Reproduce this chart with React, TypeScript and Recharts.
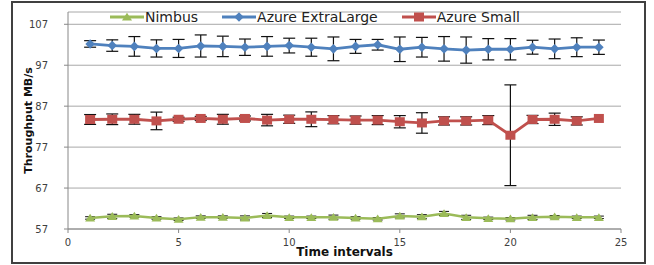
import React from 'react';
import { LineChart, Line, XAxis, YAxis, CartesianGrid, ErrorBar, Legend, Label } from 'recharts';

const intervals = [1, 2, 3, 4, 5, 6, 7, 8, 9, 10, 11, 12, 13, 14, 15, 16, 17, 18, 19, 20, 21, 22, 23, 24];
const nimbus = [59.7, 60.1, 60.2, 59.7, 59.4, 59.9, 59.9, 59.7, 60.3, 59.85, 59.85, 59.9, 59.7, 59.5, 60.2, 60.0, 60.8, 59.85, 59.6, 59.5, 59.85, 60.0, 59.85, 59.85];
const nimbusErr = [0.3, 0.5, 0.3, 0.3, 0.3, 0.3, 0.3, 0.5, 0.5, 0.3, 0.3, 0.5, 0.3, 0.3, 0.5, 0.5, 0.5, 0.5, 0.3, 0.3, 0.5, 0.3, 0.3, 0.3];
const extraLarge = [102.2, 101.8, 101.6, 101.1, 101.1, 101.7, 101.6, 101.4, 101.6, 101.8, 101.4, 101.0, 101.6, 102.0, 100.9, 101.4, 101.0, 100.7, 100.9, 100.9, 101.4, 101.0, 101.4, 101.4];
const extraLargeErr = [0.8, 1.4, 2.4, 2.1, 2.2, 2.7, 2.5, 2.0, 2.4, 1.8, 2.2, 2.9, 1.7, 1.3, 3.0, 2.4, 3.0, 3.2, 2.6, 2.6, 1.7, 2.4, 2.3, 1.75];
const small = [83.75, 83.8, 83.8, 83.4, 83.8, 84.0, 83.8, 84.0, 83.6, 83.8, 83.8, 83.7, 83.6, 83.6, 83.2, 82.9, 83.4, 83.4, 83.6, 79.9, 83.75, 83.8, 83.4, 84.0];
const smallErr = [1.2, 1.3, 1.2, 2.15, 0.5, 0.5, 1.2, 0.6, 1.4, 1.0, 1.8, 1.0, 1.0, 1.1, 1.5, 2.5, 1.0, 1.0, 1.1, 12.3, 1.0, 1.5, 1.0, 0];

const xTicks = [0, 5, 10, 15, 20, 25];
const yTicks = [57, 67, 77, 87, 97, 107];

const seriesNames = ['Nimbus', 'Azure ExtraLarge', 'Azure Small'];

const data = intervals.map((t, i) => ({
  t,
  nimbus: nimbus[i],
  nimbusErr: nimbusErr[i],
  extraLarge: extraLarge[i],
  extraLargeErr: extraLargeErr[i],
  small: small[i],
  smallErr: smallErr[i],
}));

const GREEN = '#9BBB59';
const BLUE = '#4F81BD';
const RED = '#C0504D';
const FONT = 'DejaVu Sans';

const diamond = (cx: number, cy: number, s = 4.8) =>
  `${cx},${cy - s} ${cx + s},${cy} ${cx},${cy + s} ${cx - s},${cy}`;
const triangle = (cx: number, cy: number) =>
  `${cx},${cy - 4.2} ${cx + 5},${cy + 3.6} ${cx - 5},${cy + 3.6}`;

const DiamondDot = (p: any) =>
  p.cx == null ? null : <polygon key={`dd-${p.index}`} points={diamond(p.cx, p.cy)} fill={BLUE} />;
const SquareDot = (p: any) =>
  p.cx == null ? null : <rect key={`sd-${p.index}`} x={p.cx - 5} y={p.cy - 4.5} width={10} height={9} fill={RED} />;
const TriangleDot = (p: any) =>
  p.cx == null ? null : <polygon key={`td-${p.index}`} points={triangle(p.cx, p.cy)} fill={GREEN} />;

const LegendItem = ({ color, name, kind }: { color: string; name: string; kind: string }) => (
  <div style={{ display: 'flex', alignItems: 'center', marginRight: 24 }}>
    <svg width={34} height={14} style={{ display: 'block' }}>
      <line x1={0} y1={7} x2={34} y2={7} stroke={color} strokeWidth={3} />
      {kind === 'tri' && <polygon points={triangle(17, 7)} fill={color} />}
      {kind === 'dia' && <polygon points={diamond(17, 7)} fill={color} />}
      {kind === 'sq' && <rect x={12} y={2.5} width={10} height={9} fill={color} />}
    </svg>
    <span style={{ fontFamily: FONT, fontSize: 14, color: '#222', marginLeft: 1, lineHeight: '14px' }}>{name}</span>
  </div>
);

const CustomLegend = () => (
  <div style={{ display: 'flex', alignItems: 'center' }}>
    <LegendItem color={GREEN} name={seriesNames[0]} kind="tri" />
    <LegendItem color={BLUE} name={seriesNames[1]} kind="dia" />
    <LegendItem color={RED} name={seriesNames[2]} kind="sq" />
  </div>
);

export default function App() {
  return (
    <div style={{ position: 'absolute', left: 0, top: 0, width: 654, height: 265, background: '#fff' }}>
      <div
        style={{
          position: 'absolute',
          left: 11,
          top: 1,
          width: 635,
          height: 263,
          boxSizing: 'border-box',
          border: '2px solid #404040',
        }}
      />
      <div style={{ position: 'absolute', left: 0, top: 0 }}>
        <LineChart width={654} height={265} data={data} margin={{ top: 12, right: 33, bottom: 6, left: 8 }}>
          <CartesianGrid horizontal vertical={false} stroke="#a8a8a8" strokeWidth={1} />
          <XAxis
            dataKey="t"
            type="number"
            domain={[0, 25]}
            ticks={xTicks}
            height={30}
            stroke="#888"
            tickSize={4}
            tickMargin={6}
            tick={{ fontSize: 10, fill: '#404040', fontFamily: FONT }}
          >
            <Label
              content={(props: any) => {
                const vb = props.viewBox || { x: 68, y: 229, width: 553, height: 30 };
                return (
                  <text
                    x={vb.x + vb.width / 2}
                    y={vb.y + 27}
                    textAnchor="middle"
                    fontFamily={FONT}
                    fontWeight="bold"
                    fontSize={12}
                    fill="#111"
                  >
                    Time intervals
                  </text>
                );
              }}
            />
          </XAxis>
          <YAxis
            type="number"
            domain={[57, 110]}
            ticks={yTicks}
            width={60}
            stroke="#888"
            tickSize={4}
            tickMargin={16}
            tick={{ fontSize: 10, fill: '#404040', fontFamily: FONT }}
          >
            <Label
              content={(props: any) => {
                const vb = props.viewBox || { x: 8, y: 12, width: 60, height: 217 };
                const x = vb.x + 24;
                const y = vb.y + vb.height / 2;
                return (
                  <text
                    x={x}
                    y={y}
                    transform={`rotate(-90, ${x}, ${y})`}
                    textAnchor="middle"
                    fontFamily={FONT}
                    fontWeight="bold"
                    fontSize={11}
                    fill="#111"
                  >
                    Throughput MB/s
                  </text>
                );
              }}
            />
          </YAxis>
          <Legend
            verticalAlign="middle"
            align="center"
            layout="horizontal"
            wrapperStyle={{ top: 10, left: 110, width: 480, height: 14 }}
            content={() => <CustomLegend />}
          />
          <Line
            dataKey="nimbus"
            name={seriesNames[0]}
            stroke={GREEN}
            strokeWidth={2.5}
            dot={TriangleDot}
            isAnimationActive={false}
          >
            <ErrorBar dataKey="nimbusErr" width={5} stroke="#111" strokeWidth={1} />
          </Line>
          <Line
            dataKey="extraLarge"
            name={seriesNames[1]}
            stroke={BLUE}
            strokeWidth={2.8}
            dot={DiamondDot}
            isAnimationActive={false}
          >
            <ErrorBar dataKey="extraLargeErr" width={6} stroke="#111" strokeWidth={1.2} />
          </Line>
          <Line
            dataKey="small"
            name={seriesNames[2]}
            stroke={RED}
            strokeWidth={2.8}
            dot={SquareDot}
            isAnimationActive={false}
          >
            <ErrorBar dataKey="smallErr" width={6} stroke="#111" strokeWidth={1.2} />
          </Line>
        </LineChart>
      </div>
    </div>
  );
}
